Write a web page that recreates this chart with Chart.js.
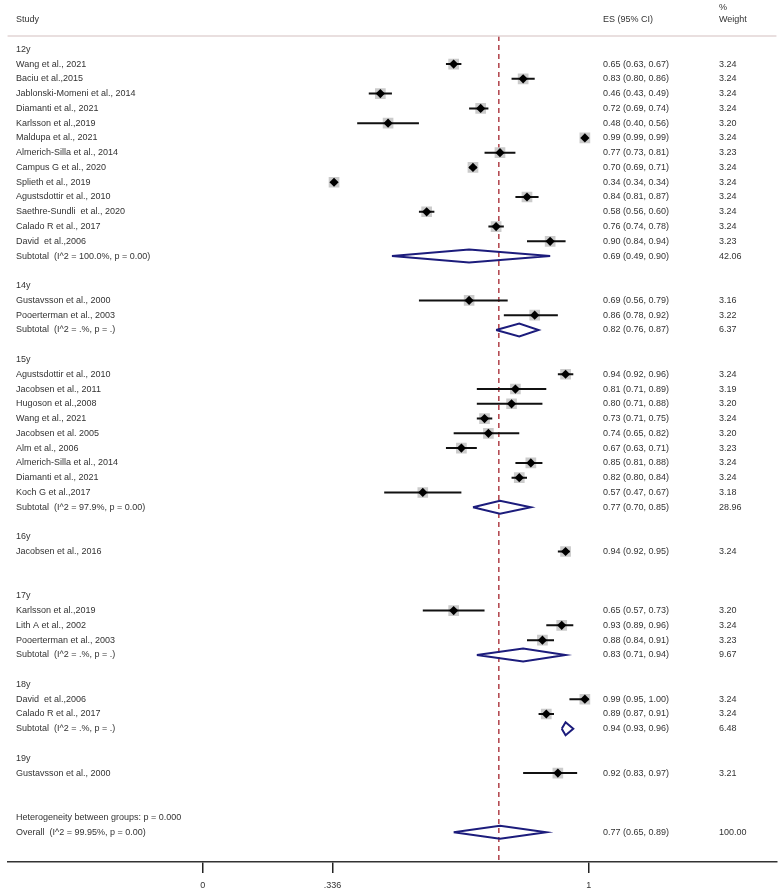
<!DOCTYPE html>
<html><head><meta charset="utf-8">
<script src="https://cdn.jsdelivr.net/npm/chart.js@4/dist/chart.umd.min.js"></script>
<style>html,body{margin:0;padding:0;background:#fff}#wrap{width:784px;height:894px;position:relative}</style>
</head><body><div id="wrap"><canvas id="c" width="784" height="894"></canvas></div>
<script>
// ---- data (one entry per row, top to bottom) ----
const rowLabels = [
  "12y","Wang et al., 2021","Baciu et al.,2015","Jablonski-Momeni et al., 2014","Diamanti et al., 2021",
  "Karlsson et al.,2019","Maldupa et al., 2021","Almerich-Silla et al., 2014","Campus G et al., 2020",
  "Splieth et al., 2019","Agustsdottir et al., 2010","Saethre-Sundli  et al., 2020","Calado R et al., 2017",
  "David  et al.,2006","Subtotal  (I^2 = 100.0%, p = 0.00)","",
  "14y","Gustavsson et al., 2000","Pooerterman et al., 2003","Subtotal  (I^2 = .%, p = .)","",
  "15y","Agustsdottir et al., 2010","Jacobsen et al., 2011","Hugoson et al.,2008","Wang et al., 2021",
  "Jacobsen et al. 2005","Alm et al., 2006","Almerich-Silla et al., 2014","Diamanti et al., 2021",
  "Koch G et al.,2017","Subtotal  (I^2 = 97.9%, p = 0.00)","",
  "16y","Jacobsen et al., 2016","","",
  "17y","Karlsson et al.,2019","Lith A et al., 2002","Pooerterman et al., 2003","Subtotal  (I^2 = .%, p = .)","",
  "18y","David  et al.,2006","Calado R et al., 2017","Subtotal  (I^2 = .%, p = .)","",
  "19y","Gustavsson et al., 2000","","",
  "Heterogeneity between groups: p = 0.000","Overall  (I^2 = 99.95%, p = 0.00)"
];
const esValues = [
  null,0.65,0.83,0.46,0.72,0.48,0.99,0.77,0.70,0.34,0.84,0.58,0.76,0.90,0.69,null,
  null,0.69,0.86,0.82,null,
  null,0.94,0.81,0.80,0.73,0.74,0.67,0.85,0.82,0.57,0.77,null,
  null,0.94,null,null,
  null,0.65,0.93,0.88,0.83,null,
  null,0.99,0.89,0.94,null,
  null,0.92,null,null,
  null,0.77
];
const ciLow = [
  null,0.63,0.80,0.43,0.69,0.40,0.99,0.73,0.69,0.34,0.81,0.56,0.74,0.84,0.49,null,
  null,0.56,0.78,0.76,null,
  null,0.92,0.71,0.71,0.71,0.65,0.63,0.81,0.80,0.47,0.70,null,
  null,0.92,null,null,
  null,0.57,0.89,0.84,0.71,null,
  null,0.95,0.87,0.93,null,
  null,0.83,null,null,
  null,0.65
];
const ciHigh = [
  null,0.67,0.86,0.49,0.74,0.56,0.99,0.81,0.71,0.34,0.87,0.60,0.78,0.94,0.90,null,
  null,0.79,0.92,0.87,null,
  null,0.96,0.89,0.88,0.75,0.82,0.71,0.88,0.84,0.67,0.85,null,
  null,0.95,null,null,
  null,0.73,0.96,0.91,0.94,null,
  null,1.00,0.91,0.96,null,
  null,0.97,null,null,
  null,0.89
];
const weights = [
  null,3.24,3.24,3.24,3.24,3.20,3.24,3.23,3.24,3.24,3.24,3.24,3.24,3.23,42.06,null,
  null,3.16,3.22,6.37,null,
  null,3.24,3.19,3.20,3.24,3.20,3.23,3.24,3.24,3.18,28.96,null,
  null,3.24,null,null,
  null,3.20,3.24,3.23,9.67,null,
  null,3.24,3.24,6.48,null,
  null,3.21,null,null,
  null,100.00
];
const xTicks = [0, 0.336, 1];
const xTickLabels = ["0", ".336", "1"];
const overallES = 0.767;

// ---- build datasets from the arrays ----
const isPooled = (i) => /^(Subtotal|Overall)/.test(rowLabels[i]);
const boxes = [], boxR = [], marks = [], ciLines = [], diamonds = [];
rowLabels.forEach((lab, i) => {
  if (esValues[i] === null) return;
  if (isPooled(i)) {
    diamonds.push({x: ciLow[i], y: i}, {x: esValues[i], y: i - 0.44}, {x: ciHigh[i], y: i},
                  {x: esValues[i], y: i + 0.44}, {x: ciLow[i], y: i}, {x: null, y: null});
  } else {
    boxes.push({x: esValues[i], y: i});
    boxR.push(Math.sqrt(weights[i]) * 4.2);
    marks.push({x: esValues[i], y: i});
    ciLines.push({x: ciLow[i], y: i}, {x: ciHigh[i], y: i}, {x: null, y: null});
  }
});
const Y_MIN = -0.9, Y_MAX = 55.02;

const FONT = '"Liberation Sans", Arial, sans-serif';
const textPlugin = {
  id: 'forestText',
  afterDraw(chart) {
    const ctx = chart.ctx, ys = chart.scales.y, a = chart.chartArea;
    ctx.save();
    // header rule
    ctx.strokeStyle = '#e2d4d4'; ctx.lineWidth = 1.5;
    ctx.beginPath(); ctx.moveTo(a.left, a.top); ctx.lineTo(a.right, a.top); ctx.stroke();
    ctx.fillStyle = '#333'; ctx.textBaseline = 'middle'; ctx.textAlign = 'left';
    ctx.font = '9px ' + FONT;
    const xStudy = 16, xES = 603, xW = 719;
    ctx.fillText('Study', xStudy, ys.getPixelForValue(-2));
    ctx.fillText('ES (95% CI)', xES, ys.getPixelForValue(-2));
    ctx.fillText('Weight', xW, ys.getPixelForValue(-2));
    ctx.fillText('%', xW, ys.getPixelForValue(-2.85));
    rowLabels.forEach((lab, i) => {
      const y = ys.getPixelForValue(i);
      ctx.fillText(lab, xStudy, y);
      if (esValues[i] !== null) {
        ctx.fillText(`${esValues[i].toFixed(2)} (${ciLow[i].toFixed(2)}, ${ciHigh[i].toFixed(2)})`, xES, y);
        ctx.fillText(weights[i].toFixed(2), xW, y);
      }
    });
    ctx.restore();
  }
};

new Chart(document.getElementById('c'), {
  type: 'scatter',
  data: {
    datasets: [
      {type: 'scatter', data: marks, pointStyle: 'rectRot', pointRadius: 4.6,
       backgroundColor: '#000', borderColor: '#000', borderWidth: 0, order: 0},
      {type: 'line', data: ciLines, borderColor: '#111', borderWidth: 2, pointRadius: 0,
       spanGaps: false, fill: false, order: 1},
      {type: 'line', data: diamonds, borderColor: '#1c1c7c', borderWidth: 2, pointRadius: 0,
       spanGaps: false, fill: false, order: 1},
      {type: 'scatter', data: boxes, pointStyle: 'rect', pointRadius: boxR,
       backgroundColor: '#cbcbcb', borderWidth: 0, order: 2},
      {type: 'line', data: [{x: overallES, y: Y_MIN}, {x: overallES, y: Y_MAX}],
       borderColor: '#b04048', borderWidth: 1.5, borderDash: [5, 4], pointRadius: 0, order: 3}
    ]
  },
  options: {
    responsive: false, animation: false, devicePixelRatio: 1,
    layout: {padding: {left: 4, right: 3, top: 36, bottom: 0}},
    plugins: {legend: {display: false}, tooltip: {enabled: false}},
    scales: {
      x: {
        type: 'linear', min: -0.506, max: 1.4864,
        afterBuildTicks: (s) => { s.ticks = xTicks.map(v => ({value: v})); },
        afterFit: (s) => { s.height = 32; },
        grid: {display: true, drawOnChartArea: false, drawTicks: true, tickLength: 11,
               color: '#222', lineWidth: 1.5},
        border: {display: true, color: '#333', width: 1.5},
        ticks: {font: {size: 9, family: FONT}, color: '#333', padding: 7,
                maxRotation: 0, autoSkip: false,
                callback: (v) => { const k = xTicks.indexOf(v); return k >= 0 ? xTickLabels[k] : ''; }}
      },
      y: {type: 'linear', min: Y_MIN, max: Y_MAX, reverse: true, display: false}
    }
  },
  plugins: [textPlugin]
});
</script></body></html>
